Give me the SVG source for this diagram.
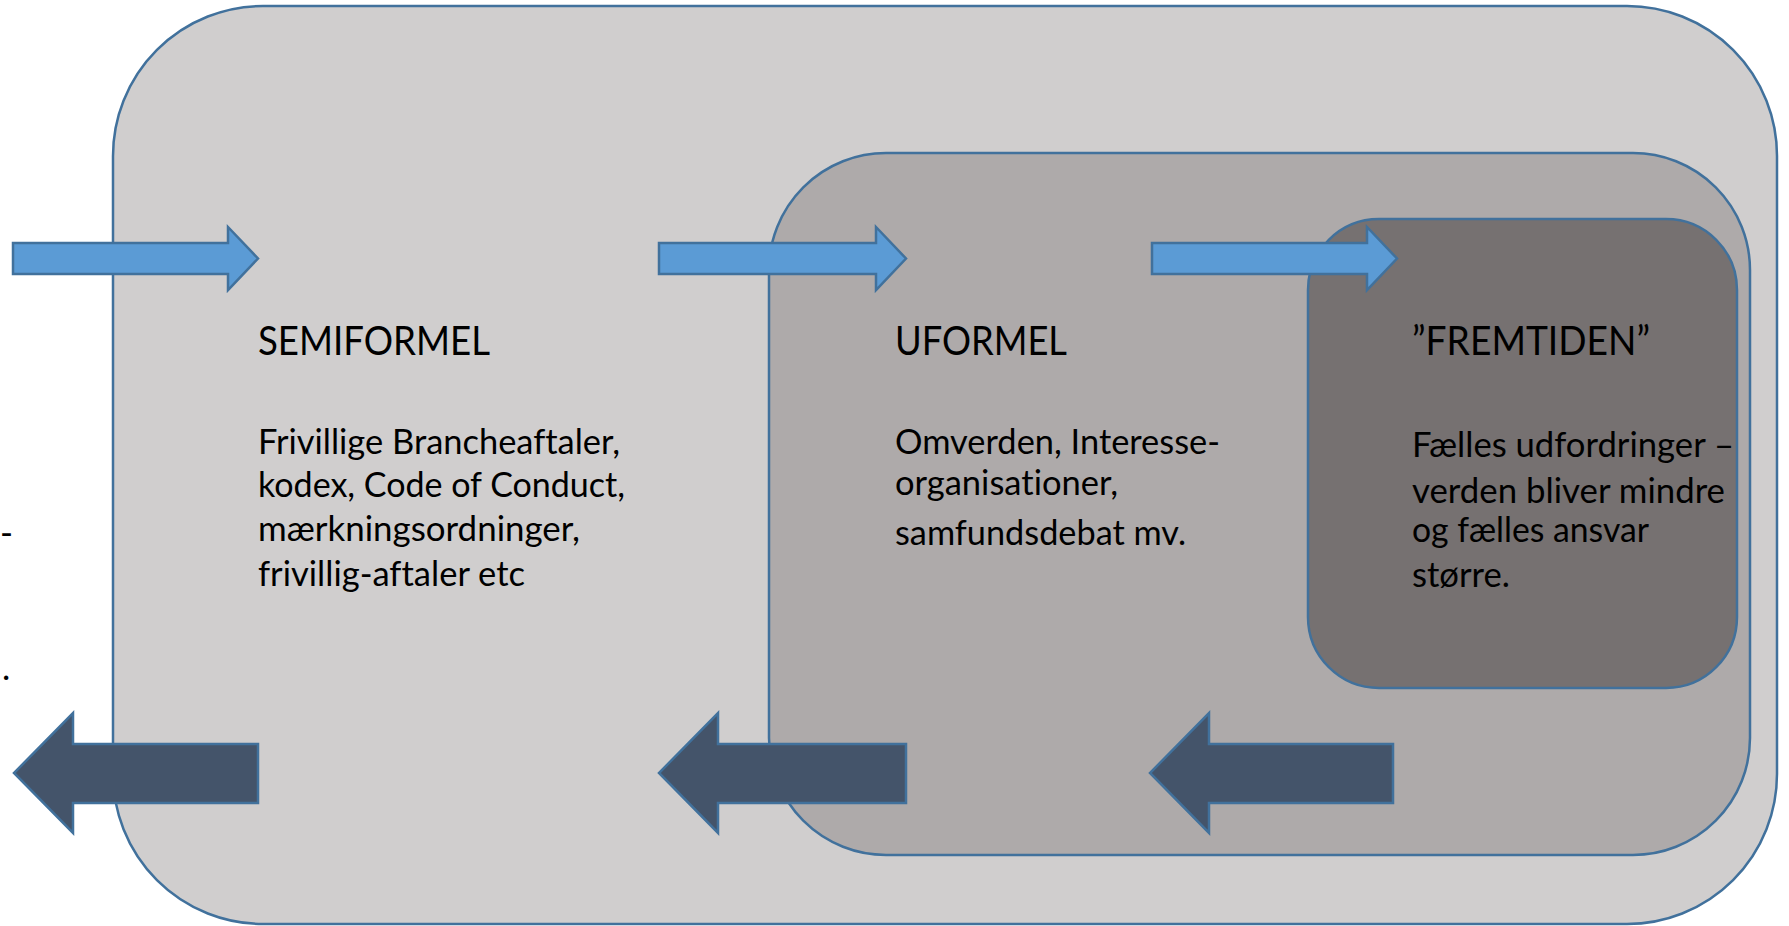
<svg xmlns="http://www.w3.org/2000/svg" width="1789" height="926" viewBox="0 0 1789 926">
<style>
.box{stroke:#41719C;stroke-width:2.5}
.ra{fill:#5B9BD5;stroke:#41719C;stroke-width:2.5;stroke-linejoin:miter}
.la{fill:#44546A;stroke:#41719C;stroke-width:2.5;stroke-linejoin:miter}
.t{font-family:Lato,"Open Sans",sans-serif;fill:#000;font-variant-ligatures:none}
.h{font-size:40px}
.b{font-size:35px}
</style>
<rect width="1789" height="926" fill="#FFFFFF"/>
<g id="outer">
<rect class="box" x="113" y="6" width="1664" height="918" rx="150" ry="150" fill="#D0CECE"/>
</g>
<g id="middle">
<rect class="box" x="769" y="153" width="981" height="702" rx="117" ry="117" fill="#AEAAAA"/>
</g>
<g id="inner">
<rect class="box" x="1308" y="219" width="429" height="469" rx="71" ry="71" fill="#767171"/>
</g>
<g id="connectors">
<polygon class="ra" points="13,243 228,243 228,227 258,258.5 228,290 228,274 13,274"/>
<polygon class="ra" points="659,243 876,243 876,227 906,258.5 876,290 876,274 659,274"/>
<polygon class="ra" points="1152,243 1367,243 1367,227 1397,258.5 1367,290 1367,274 1152,274"/>
<polygon class="la" points="258,744 73,744 73,713 14,773 73,833 73,803 258,803"/>
<polygon class="la" points="906,744 718,744 718,713 659,773 718,833 718,803 906,803"/>
<polygon class="la" points="1393,744 1209,744 1209,713 1150,773 1209,833 1209,803 1393,803"/>
</g>
<g id="semiformel-text">
<text class="t h" x="258" y="355" textLength="232" lengthAdjust="spacingAndGlyphs">SEMIFORMEL</text>
<text class="t b" x="258" y="454" textLength="362" lengthAdjust="spacingAndGlyphs">Frivillige Brancheaftaler,</text>
<text class="t b" x="258" y="497" textLength="367" lengthAdjust="spacingAndGlyphs">kodex, Code of Conduct,</text>
<text class="t b" x="258" y="541" textLength="322" lengthAdjust="spacingAndGlyphs">mærkningsordninger,</text>
<text class="t b" x="258" y="586" textLength="267" lengthAdjust="spacingAndGlyphs">frivillig-aftaler etc</text>
</g>
<g id="uformel-text">
<text class="t h" x="895" y="355" textLength="172" lengthAdjust="spacingAndGlyphs">UFORMEL</text>
<text class="t b" x="895" y="454" textLength="325" lengthAdjust="spacingAndGlyphs">Omverden, Interesse-</text>
<text class="t b" x="895" y="495" textLength="223" lengthAdjust="spacingAndGlyphs">organisationer,</text>
<text class="t b" x="895" y="545" textLength="291" lengthAdjust="spacingAndGlyphs">samfundsdebat mv.</text>
</g>
<g id="fremtiden-text">
<text class="t h" x="1412" y="355" textLength="238" lengthAdjust="spacingAndGlyphs">”FREMTIDEN”</text>
<text class="t b" x="1412" y="457" textLength="322" lengthAdjust="spacingAndGlyphs">Fælles udfordringer –</text>
<text class="t b" x="1412" y="503" textLength="313" lengthAdjust="spacingAndGlyphs">verden bliver mindre</text>
<text class="t b" x="1412" y="542" textLength="237" lengthAdjust="spacingAndGlyphs">og fælles ansvar</text>
<text class="t b" x="1412" y="587" textLength="98" lengthAdjust="spacingAndGlyphs">større.</text>
</g>
<g id="edge-fragments">
<text class="t b" x="0" y="545">-</text>
<text class="t b" x="2" y="680">.</text>
</g>
</svg>
